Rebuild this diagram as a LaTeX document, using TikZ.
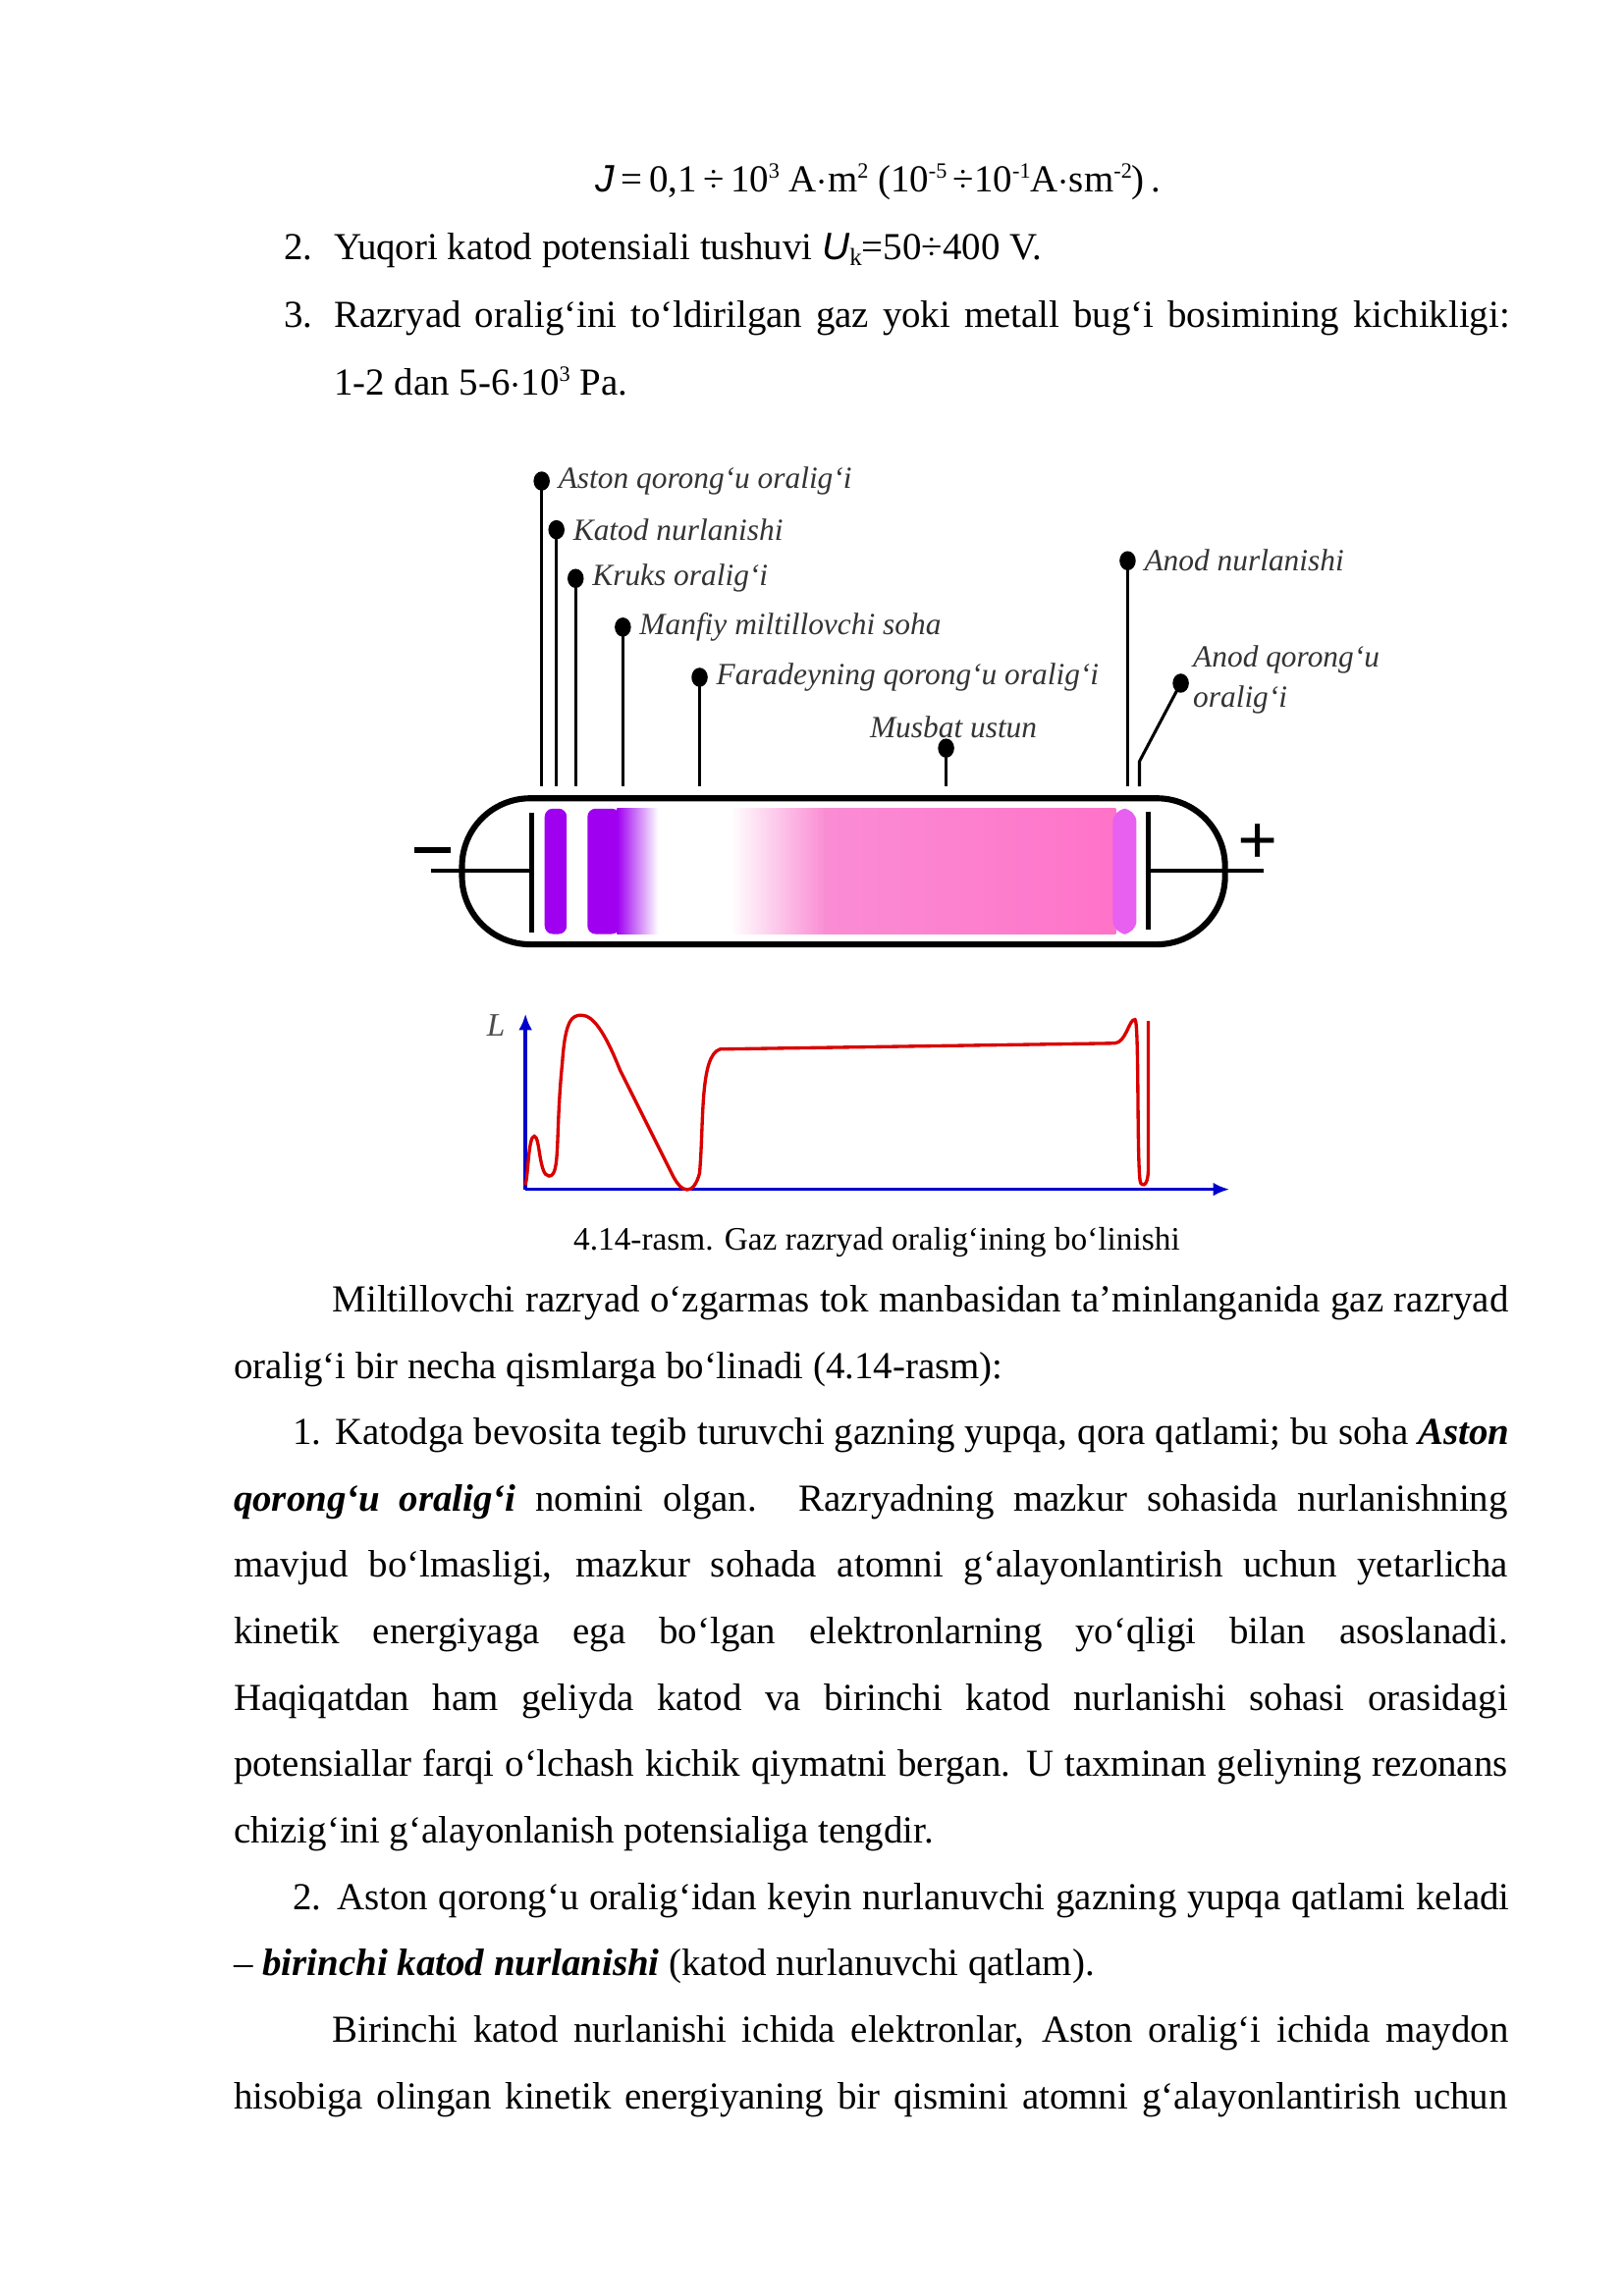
\documentclass[tikz,border=0pt]{standalone}
\usepackage{fontspec}
\setmainfont{Liberation Serif}
\newfontfamily\arialf{Liberation Sans}
\newcommand{\jl}[2]{\makebox[#1pt][s]{#2}}
\newcommand{\bi}[1]{\textbf{\textit{#1}}}
\newcommand{\sps}[1]{\raisebox{5pt}{\fontsize{8}{8}\selectfont #1}}
\usetikzlibrary{arrows.meta}
\begin{document}
\begin{tikzpicture}[x=0.541pt,y=-0.541pt,
  txt/.style={anchor=base west,inner sep=0pt,font=\fontsize{14}{16}\selectfont},
  lab/.style={anchor=west,inner sep=0pt,font=\fontsize{11.3}{12}\selectfont\itshape,text=black!80},
  pin/.style={line width=1.1pt},
  dot/.style={fill=black},
  ax/.style={blue!80!black,line width=1.3pt,-{Latex[length=6pt,width=5pt]}},
  curve/.style={red!85!black,line width=1.2pt}]
\path[use as bounding box] (0,0) rectangle (1100,1556);
% header text
\node[txt,anchor=base] (f) at (595,130) {{\arialf\itshape J}\,=\,0,1\,÷\,10\sps{3} A$\cdot$m\sps{2} (10\sps{-5}\,÷10\sps{-1}A$\cdot$sm\sps{-2})\,.};
\node[txt] (n2) at (192,176) {2.};
\node[txt] (l2) at (226,176) {Yuqori katod potensiali tushuvi {\arialf\itshape U}\raisebox{-2pt}{\fontsize{9}{9}\selectfont k}=50÷400 V.};
\node[txt] (n3) at (192,222) {3.};
\node[txt] (l3) at (226,222) {\jl{431}{Razryad oralig‘ini to‘ldirilgan gaz yoki metall bug‘i bosimining kichikligi:}};
\node[txt] (l3b) at (226,268) {1-2 dan 5-6$\cdot$10\sps{3} Pa.};
% tube
\fill[rounded corners=3pt,fill={rgb,255:red,160;green,0;blue,240}] (369,548) rectangle (384,633);
\fill[fill={rgb,255:red,160;green,0;blue,240},rounded corners=3pt] (398,548) rectangle (420,633);
\shade[left color={rgb,255:red,160;green,0;blue,240},right color=white] (418,548) rectangle (446,633);
\shade[left color=white,right color={rgb,255:red,250;green,140;blue,212}] (495,548) rectangle (560,633);
\shade[left color={rgb,255:red,250;green,140;blue,212},right color={rgb,255:red,255;green,115;blue,200}] (559,548) rectangle (756,633);
\fill[fill={rgb,255:red,232;green,96;blue,240},rounded corners=5pt] (754,548) rectangle (770,633);
\draw[line width=2.2pt,rounded corners=25pt] (313,541) rectangle (830,640);
\coordinate (kw) at (292,590); \coordinate (k) at (360,590);
\coordinate (aw) at (856,590); \coordinate (a) at (778,590);
\draw[line width=1.6pt] (kw) -- (k);
\draw[line width=1.8pt] (360,551) -- (360,632);
\draw[line width=1.6pt] (a) -- (aw);
\draw[line width=1.8pt] (778,550) -- (778,630);
\node[inner sep=0pt] (minus) at (293,576) {\rule{13pt}{2pt}};
\node[font=\fontsize{26}{26}\selectfont\bfseries,inner sep=0pt] (plus) at (852,572) {+};
% pins
\foreach \n/\x/\y/\t in {aston/367/326/{Aston qorong‘u oralig‘i},katod/377/359/{Katod nurlanishi},kruks/390/392/{Kruks oralig‘i},manf/422/425/{Manfiy miltillovchi soha},farad/474/459/{Faradeyning qorong‘u oralig‘i},anod/764/380/{Anod nurlanishi}}{
  \fill[dot] (\x,\y) ellipse [x radius=5.5,y radius=6.5];
  \coordinate (\n-d) at (\x,\y); \coordinate (\n-e) at (\x,533);
  \draw[pin] (\n-d) -- (\n-e);
  \node[lab] (\n) at (\x+11,\y) {\t};
}
\coordinate (mus-d) at (641,507); \coordinate (mus-e) at (641,533);
\fill[dot] (mus-d) ellipse [x radius=5.5,y radius=6.5];
\draw[pin] (mus-d) -- (mus-e);
\node[lab,anchor=center] (mus) at (646,493) {Musbat ustun};
\coordinate (aq-d) at (800,463); \coordinate (aq-m) at (772,516); \coordinate (aq-e) at (772,533);
\fill[dot] (aq-d) ellipse [x radius=5.5,y radius=6.5];
\draw[pin] (aq-d) -- (aq-m) -- (aq-e);
\node[lab] (aq1) at (808,447) {Anod qorong‘u};
\node[lab] (aq2) at (808,474) {oralig‘i};
% plot
\coordinate (o) at (356,806);
\coordinate (ytop) at (356,687);
\coordinate (xend) at (833,806);
\draw[ax] (o) -- (ytop);
\draw[ax] (o) -- (xend);
\node[font=\fontsize{12}{12}\selectfont\itshape,text=black!70,inner sep=0pt] (L) at (336,695) {L};
\draw[curve] (356,803) .. controls (358,795) and (358,770) .. (362,770) .. controls (366,770) and (365,797) .. (372,797)
 .. controls (380,797) and (376,770) .. (381,720) .. controls (383,690) and (388,688) .. (394,688)
 .. controls (402,688) and (410,700) .. (420,725) -- (455,795) .. controls (462,810) and (470,810) .. (474,795)
 .. controls (477,760) and (474,715) .. (488,711) -- (755,707) .. controls (763,707) and (765,690) .. (769,691)
 .. controls (772,692) and (770,800) .. (773,802) .. controls (776,805) and (778,800) .. (778,792) -- (778,692);
% caption
\node[txt,anchor=base,font=\fontsize{12}{13}\selectfont] (cap) at (594,847) {4.14-rasm. Gaz razryad oralig‘ining bo‘linishi};
% body
\node[txt] (b1) at (225,889) {\jl{431}{Miltillovchi razryad o‘zgarmas tok manbasidan ta’minlanganida gaz razryad}};
\node[txt] (b2) at (158,934) {oralig‘i bir necha qismlarga bo‘linadi (4.14-rasm):};
\node[txt] (b3) at (198,979) {\jl{446}{1. Katodga bevosita tegib turuvchi gazning yupqa, qora qatlami; bu soha \bi{Aston}}};
\node[txt] (b4) at (158,1024) {\jl{467}{\bi{qorong‘u oralig‘i} nomini olgan. Razryadning mazkur sohasida nurlanishning}};
\node[txt] (b5) at (158,1069) {\jl{467}{mavjud bo‘lmasligi, mazkur sohada atomni g‘alayonlantirish uchun yetarlicha}};
\node[txt] (b6) at (158,1114) {\jl{467}{kinetik energiyaga ega bo‘lgan elektronlarning yo‘qligi bilan asoslanadi.}};
\node[txt] (b7) at (158,1159) {\jl{467}{Haqiqatdan ham geliyda katod va birinchi katod nurlanishi sohasi orasidagi}};
\node[txt] (b8) at (158,1204) {\jl{467}{potensiallar farqi o‘lchash kichik qiymatni bergan. U taxminan geliyning rezonans}};
\node[txt] (b9) at (158,1249) {chizig‘ini g‘alayonlanish potensialiga tengdir.};
\node[txt] (b10) at (198,1294) {\jl{446}{2. Aston qorong‘u oralig‘idan keyin nurlanuvchi gazning yupqa qatlami keladi}};
\node[txt] (b11) at (158,1339) {– \bi{birinchi katod nurlanishi} (katod nurlanuvchi qatlam).};
\node[txt] (b12) at (225,1384) {\jl{431}{Birinchi katod nurlanishi ichida elektronlar, Aston oralig‘i ichida maydon}};
\node[txt] (b13) at (158,1429) {\jl{467}{hisobiga olingan kinetik energiyaning bir qismini atomni g‘alayonlantirish uchun}};
\end{tikzpicture}
\end{document}
